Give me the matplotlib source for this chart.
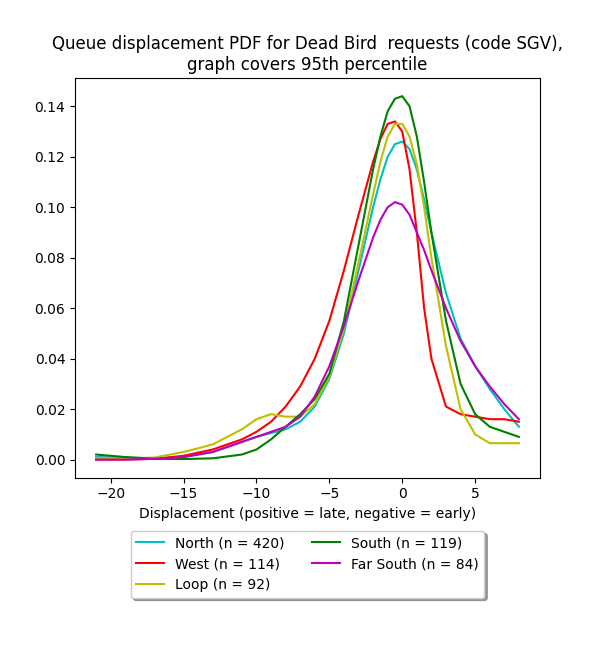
import numpy as np
import matplotlib
matplotlib.use("Agg")
import matplotlib.pyplot as plt

x = [-21, -19, -17, -15, -13, -11, -10, -9, -8, -7, -6, -5, -4, -3, -2, -1.5, -1, -0.5,
     0, 0.5, 1, 1.5, 2, 3, 4, 5, 6, 7, 8]

north = [0.001, 0.0008, 0.0005, 0.001, 0.003, 0.007, 0.009, 0.0105, 0.012, 0.015, 0.021, 0.032,
         0.05, 0.075, 0.100, 0.111, 0.120, 0.125, 0.126, 0.123, 0.115, 0.103, 0.09, 0.066,
         0.048, 0.037, 0.028, 0.02, 0.013]
west = [0.0, 0.0, 0.0003, 0.0015, 0.004, 0.008, 0.011, 0.015, 0.021, 0.029, 0.04, 0.055,
        0.075, 0.097, 0.118, 0.127, 0.133, 0.134, 0.13, 0.115, 0.09, 0.06, 0.04, 0.021,
        0.018, 0.017, 0.016, 0.016, 0.015]
loop = [0.0005, 0.0005, 0.0008, 0.003, 0.006, 0.012, 0.016, 0.018, 0.017, 0.017, 0.022, 0.033,
        0.052, 0.078, 0.105, 0.118, 0.128, 0.133, 0.133, 0.128, 0.117, 0.1, 0.08, 0.045,
        0.02, 0.01, 0.0065, 0.0065, 0.0065]
south = [0.002, 0.001, 0.0003, 0.0002, 0.0005, 0.002, 0.004, 0.008, 0.013, 0.018, 0.024, 0.034,
         0.055, 0.085, 0.115, 0.128, 0.138, 0.143, 0.144, 0.14, 0.128, 0.11, 0.09, 0.055,
         0.03, 0.018, 0.013, 0.011, 0.009]
far_south = [0.0, 0.0, 0.0003, 0.001, 0.003, 0.007, 0.009, 0.011, 0.013, 0.017, 0.025, 0.037,
             0.053, 0.071, 0.088, 0.095, 0.1, 0.102, 0.101, 0.097, 0.09, 0.083, 0.075, 0.06,
             0.047, 0.037, 0.029, 0.022, 0.016]

series = [("North (n = 420)", north, "c"),
          ("West (n = 114)", west, "r"),
          ("Loop (n = 92)", loop, "y"),
          ("South (n = 119)", south, "g"),
          ("Far South (n = 84)", far_south, "m")]

fig = plt.figure(figsize=(6, 6.5), dpi=100)
ax = fig.add_axes([0.125, 0.265, 0.775, 0.615])
for label, y, c in series:
    ax.plot(x, y, color=c, label=label)

ax.set_title("Queue displacement PDF for Dead Bird  requests (code SGV),\ngraph covers 95th percentile")
ax.set_xlabel("Displacement (positive = late, negative = early)")
ax.legend(loc="upper center", bbox_to_anchor=(0.5, -0.115), ncol=2, fancybox=True, shadow=True)
fig.savefig("out.png")
